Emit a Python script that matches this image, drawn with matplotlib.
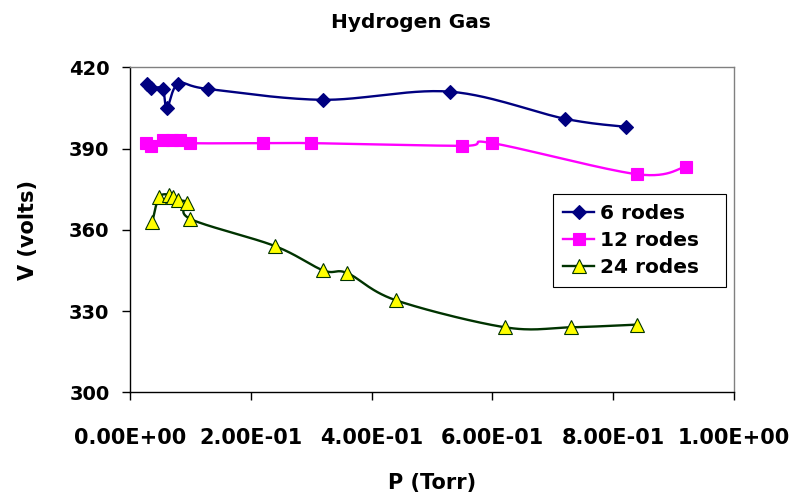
import numpy as np
import matplotlib.pyplot as plt
from matplotlib.ticker import FuncFormatter, MultipleLocator
from matplotlib.lines import Line2D

plt.rcParams["font.family"] = ["DejaVu Sans"]
plt.rcParams["font.weight"] = "bold"

# data
p_6 = [0.028, 0.035, 0.054, 0.061, 0.080, 0.129, 0.319, 0.530, 0.720, 0.821]
v_6 = [414, 412.5, 412, 405, 414, 412, 408, 411, 401, 398]

p_12 = [0.027, 0.035, 0.055, 0.070, 0.083, 0.099, 0.220, 0.300, 0.550, 0.600, 0.840, 0.920]
v_12 = [392, 391, 393, 393, 393, 392, 392, 392, 391, 392, 380.5, 383.3]

p_24 = [0.037, 0.048, 0.065, 0.072, 0.079, 0.094, 0.100, 0.240, 0.320, 0.360, 0.440, 0.621, 0.730, 0.840]
v_24 = [363, 372, 373, 372, 371, 370, 364, 354, 345, 344, 334, 324, 324, 325]

XLIM = (0, 1.0)
YLIM = (300, 420)


def smooth(xs, ys, n=30):
    # Catmull-Rom through the points, done in axis-normalised space
    sx, sy = 604.0 / (XLIM[1] - XLIM[0]), 325.0 / (YLIM[1] - YLIM[0])
    pts = np.column_stack([np.asarray(xs) * sx, np.asarray(ys) * sy])
    pts = np.vstack([pts[0], pts, pts[-1]])
    out = []
    t = np.linspace(0, 1, n)[:, None]
    for i in range(1, len(pts) - 2):
        p0, p1, p2, p3 = pts[i - 1], pts[i], pts[i + 1], pts[i + 2]
        c1 = p1 + (p2 - p0) / 6
        c2 = p2 - (p3 - p1) / 6
        seg = ((1 - t) ** 3) * p1 + 3 * ((1 - t) ** 2) * t * c1 + 3 * (1 - t) * t ** 2 * c2 + t ** 3 * p2
        out.append(seg)
    out = np.vstack(out)
    return out[:, 0] / sx, out[:, 1] / sy


fig = plt.figure(figsize=(7.92, 4.95), dpi=100)
ax = fig.add_axes([130 / 792, 1 - 392.3 / 495, 604 / 792, 325 / 495])

series = [
    ("6 rodes", p_6, v_6, "#000080", "D", "#000080", "#000080", 7.5),
    ("12 rodes", p_12, v_12, "#FF00FF", "s", "#FF00FF", "#FF00FF", 9),
    ("24 rodes", p_24, v_24, "#003300", "^", "#FFFF00", "#003300", 9.5),
]

handles = []
for name, xs, ys, col, mk, fc, ec, ms in series:
    sx, sy = smooth(xs, ys)
    ax.plot(sx, sy, color=col, lw=1.7, zorder=2)
    ax.plot(xs, ys, ls="none", marker=mk, ms=ms, mfc=fc, mec=ec, mew=0.8, zorder=3)
    handles.append(Line2D([], [], color=col, lw=1.7, marker=mk, ms=ms, mfc=fc, mec=ec, mew=0.8, label=name))

ax.set_xlim(*XLIM)
ax.set_ylim(*YLIM)
ax.xaxis.set_major_locator(MultipleLocator(0.2))
ax.yaxis.set_major_locator(MultipleLocator(30))
ax.xaxis.set_major_formatter(FuncFormatter(lambda v, _: f"{v:.2E}"))
ax.tick_params(axis="x", direction="out", length=5.8, width=1, pad=20, labelsize=15)
ax.tick_params(axis="y", direction="out", length=5.8, width=1, pad=9, labelsize=14)

for s in ("top", "right"):
    ax.spines[s].set_color("#808080")
    ax.spines[s].set_linewidth(1)
for s in ("left", "bottom"):
    ax.spines[s].set_color("black")
    ax.spines[s].set_linewidth(1)

ax.set_xlabel("P (Torr)", fontsize=15, fontweight="bold", va="center")
ax.set_ylabel("V (volts)", fontsize=15, fontweight="bold", va="center")
ax.xaxis.set_label_coords(0.5, -0.279)
ax.yaxis.set_label_coords(-0.169, 0.5)

fig.text(411 / 792, 1 - 22 / 495, "Hydrogen Gas", ha="center", va="center", fontsize=14.5, fontweight="bold")

leg = ax.legend(handles=handles, loc="upper left", bbox_to_anchor=(0.701, 0.312, 0.2855, 0.298),
                mode="expand", borderaxespad=0,
                prop={"weight": "bold", "size": 14.5}, fancybox=False, framealpha=1,
                edgecolor="black", handlelength=1.5, handletextpad=0.3, labelspacing=0.4,
                borderpad=0.5)
leg.get_frame().set_linewidth(0.8)

fig.savefig("out.png", dpi=100)
